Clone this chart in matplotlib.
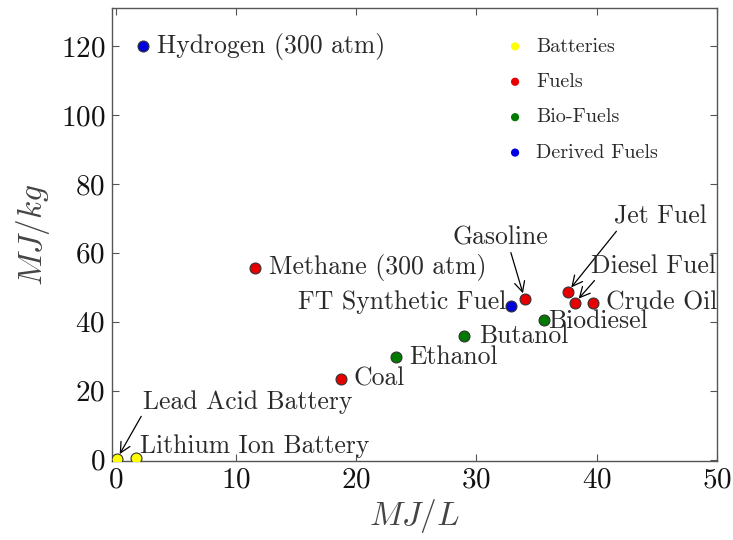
import matplotlib
matplotlib.use("Agg")
import matplotlib.pyplot as plt

plt.rcParams["font.family"] = "serif"
plt.rcParams["font.serif"] = ["cmr10", "DejaVu Serif"]
plt.rcParams["mathtext.fontset"] = "cm"
plt.rcParams["axes.formatter.use_mathtext"] = True

# energy density per fuel: volumetric (MJ/L) and gravimetric (MJ/kg)
names = ["Lead Acid Battery", "Lithium Ion Battery",
         "Coal", "Methane (300 atm)", "Gasoline", "Jet Fuel", "Diesel Fuel", "Crude Oil",
         "Ethanol", "Butanol", "Biodiesel",
         "Hydrogen (300 atm)", "FT Synthetic Fuel"]
mj_per_l = [0.1, 1.7, 18.7, 11.6, 34.0, 37.6, 38.2, 39.7, 23.3, 29.0, 35.6, 2.3, 32.9]
mj_per_kg = [0.2, 0.5, 23.5, 55.6, 46.7, 48.7, 45.5, 45.5, 29.9, 36.0, 40.6, 120.0, 44.6]
groups = ["Batteries", "Batteries",
          "Fuels", "Fuels", "Fuels", "Fuels", "Fuels", "Fuels",
          "Bio-Fuels", "Bio-Fuels", "Bio-Fuels",
          "Derived Fuels", "Derived Fuels"]
group_order = ["Batteries", "Fuels", "Bio-Fuels", "Derived Fuels"]
group_colors = {"Batteries": "#ffff00", "Fuels": "#e60000",
                "Bio-Fuels": "#007a00", "Derived Fuels": "#0000e0"}

fig, ax = plt.subplots(figsize=(7.33, 5.40), dpi=100)
fig.subplots_adjust(left=0.153, right=0.978, top=0.985, bottom=0.147)

for g in group_order:
    xs = [x for x, gg in zip(mj_per_l, groups) if gg == g]
    ys = [y for y, gg in zip(mj_per_kg, groups) if gg == g]
    ax.scatter(xs, ys, s=62, color=group_colors[g], edgecolors="#333333",
               linewidths=0.8, label=g, zorder=3)

txt = dict(fontsize=18.5, color="#2a2a2a")
arrow = dict(arrowstyle="->", color="black", lw=0.9, shrinkA=0, shrinkB=4)

# plain labels next to the points
plain = {
    "Hydrogen (300 atm)": (3.4, 120.0, "left"),
    "Methane (300 atm)": (12.75, 55.6, "left"),
    "FT Synthetic Fuel": (32.5, 45.6, "right"),
    "Crude Oil": (40.75, 45.6, "left"),
    "Biodiesel": (36.0, 40.3, "left"),
    "Butanol": (30.2, 35.7, "left"),
    "Ethanol": (24.4, 29.6, "left"),
    "Coal": (19.8, 23.5, "left"),
    "Lithium Ion Battery": (2.0, 3.8, "left"),
}
for name, (tx, ty, ha) in plain.items():
    ax.text(tx, ty, name, ha=ha, va="center", **txt)

# labels with arrows pointing at crowded points
arrowed = {
    "Lead Acid Battery": (2.25, 16.8, (0.0, 0.0)),
    "Gasoline": (32.0, 64.3, (0.6, 0.0)),
    "Jet Fuel": (45.3, 70.5, (0.05, 0.0)),
    "Diesel Fuel": (44.7, 56.2, (0.05, 0.0)),
}
for name, (tx, ty, rel) in arrowed.items():
    i = names.index(name)
    ax.annotate(name, xy=(mj_per_l[i], mj_per_kg[i]), xytext=(tx, ty),
                ha="center" if name != "Lead Acid Battery" else "left",
                va="center", arrowprops=dict(arrow, relpos=rel), **txt)

ax.set_xlim(-0.3, 50)
ax.set_ylim(-0.3, 131)
ax.set_xticks([0, 10, 20, 30, 40, 50])
ax.set_yticks([0, 20, 40, 60, 80, 100, 120])
ax.tick_params(direction="in", top=True, right=True, length=5, width=0.8,
               labelsize=21, colors="#555555", labelcolor="#111111", pad=5)
for sp in ax.spines.values():
    sp.set_color("#555555")
    sp.set_linewidth(1.0)

ax.set_xlabel("$MJ/L$", fontsize=24, color="#444444", labelpad=2)
ax.set_ylabel("$MJ/kg$", fontsize=24, color="#444444", labelpad=6)

ax.legend(loc="upper left", bbox_to_anchor=(0.603, 0.975), frameon=False,
          fontsize=14.5, handletextpad=0.05, labelspacing=0.86, scatterpoints=1,
          markerscale=0.75)
for h in ax.get_legend().legend_handles:
    h.set_edgecolor("none")
for t in ax.get_legend().get_texts():
    t.set_color("#2a2a2a")

fig.savefig("out.png", dpi=100)
